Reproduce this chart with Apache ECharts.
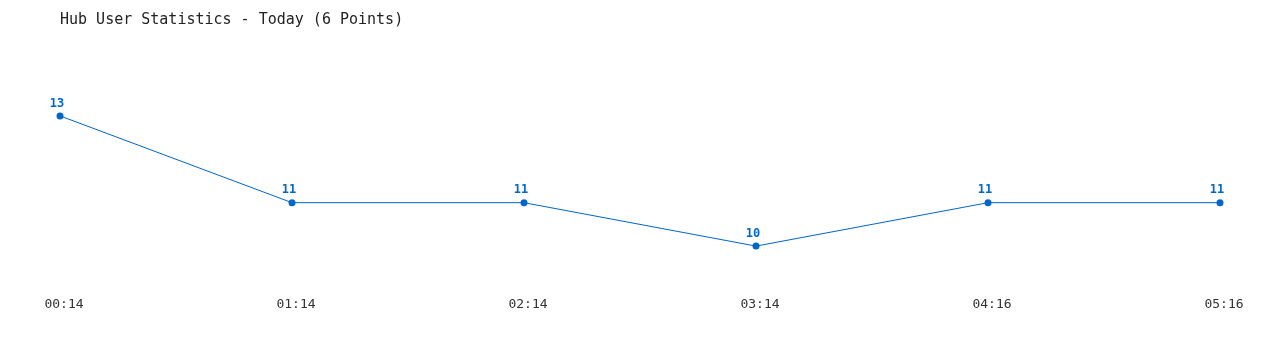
<!DOCTYPE html>
<html><head><meta charset="utf-8">
<script src="https://cdn.jsdelivr.net/npm/echarts@6/dist/echarts.min.js"></script>
<style>html,body{margin:0;padding:0;background:#fff}#c{width:1280px;height:350px}</style>
</head><body><div id="c"></div>
<script>
const title = "Hub User Statistics - Today (6 Points)";
const categories = ["00:14","01:14","02:14","03:14","04:16","05:16"];
const users = [13, 11, 11, 10, 11, 11];
const yMin = 9, yMax = 14;

const chart = echarts.init(document.getElementById('c'), null, {renderer:'canvas'});
chart.setOption({
  animation:false,
  backgroundColor:'#fff',
  title:{text:title,left:55,top:8,textStyle:{fontFamily:'DejaVu Sans Mono',fontSize:15,fontWeight:'normal',color:'#222'}},
  grid:{left:60,right:60,top:72.5,bottom:60.5,containLabel:false},
  xAxis:{type:'category',data:categories,boundaryGap:false,
    axisLine:{show:false},axisTick:{show:false},splitLine:{show:false},
    axisLabel:{margin:9,padding:[0,0,0,8],fontFamily:'DejaVu Sans Mono',fontSize:13,color:'#333'}},
  yAxis:{type:'value',min:yMin,max:yMax,show:false,splitLine:{show:false}},
  series:[{type:'line',data:users,color:'#0066cc',
    lineStyle:{width:1,color:'#0066cc'},symbol:'circle',symbolSize:7,
    itemStyle:{color:'#0066cc'},
    label:{show:true,position:'top',distance:3,offset:[-3,0],fontFamily:'DejaVu Sans Mono',fontWeight:'bold',fontSize:12,color:'#0066cc'}}]
});
</script></body></html>
